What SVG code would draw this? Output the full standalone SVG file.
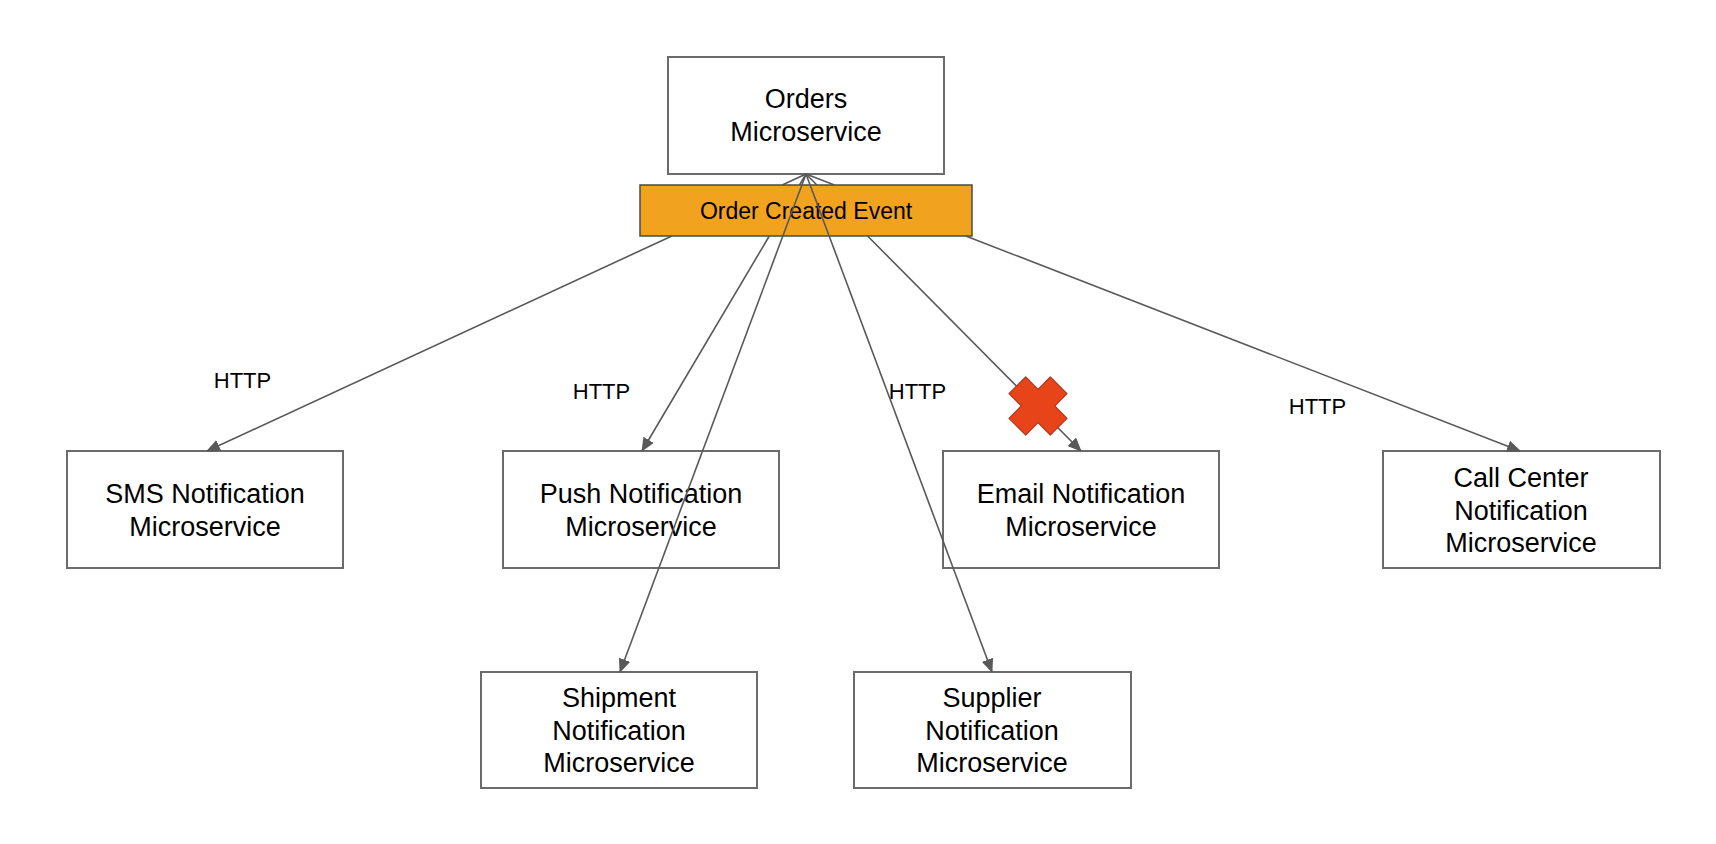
<svg xmlns="http://www.w3.org/2000/svg" width="1716" height="844" viewBox="0 0 1716 844">
  <style>
    .box { fill: #ffffff; stroke: #6b6b6b; stroke-width: 2; }
    .bar { fill: #F1A21F; stroke: #4a4a4a; stroke-width: 1.5; }
    .lbl { font-family: "Liberation Sans", Arial, sans-serif; font-size: 27px; fill: #000; text-anchor: middle; }
    .ev { font-family: "Liberation Sans", Arial, sans-serif; font-size: 23px; fill: #000; text-anchor: middle; }
    .http { font-family: "Liberation Sans", Arial, sans-serif; font-size: 22px; fill: #000; text-anchor: middle; }
    .conn { fill: none; stroke: #595959; stroke-width: 1.6; marker-end: url(#arrow); }
  </style>
  <defs>
    <marker id="arrow" markerUnits="userSpaceOnUse" markerWidth="14" markerHeight="12" viewBox="0 0 14 12" refX="13" refY="6" orient="auto">
      <path d="M0,0 L14,6 L0,12 Z" fill="#595959"/>
    </marker>
  </defs>
  <rect width="1716" height="844" fill="#ffffff"/>

  <g id="orders">
    <rect class="box" x="668" y="57" width="276" height="117"/>
    <text class="lbl" x="806" y="108">Orders</text>
    <text class="lbl" x="806" y="141">Microservice</text>
  </g>
  <g id="event">
    <rect class="bar" x="640" y="185" width="332" height="51"/>
    <text class="ev" x="806" y="219">Order Created Event</text>
  </g>
  <g id="sms">
    <rect class="box" x="67" y="451" width="276" height="117"/>
    <text class="lbl" x="205" y="503">SMS Notification</text>
    <text class="lbl" x="205" y="536">Microservice</text>
  </g>
  <g id="push">
    <rect class="box" x="503" y="451" width="276" height="117"/>
    <text class="lbl" x="641" y="503">Push Notification</text>
    <text class="lbl" x="641" y="536">Microservice</text>
  </g>
  <g id="email">
    <rect class="box" x="943" y="451" width="276" height="117"/>
    <text class="lbl" x="1081" y="503">Email Notification</text>
    <text class="lbl" x="1081" y="536">Microservice</text>
  </g>
  <g id="callcenter">
    <rect class="box" x="1383" y="451" width="277" height="117"/>
    <text class="lbl" x="1521" y="487">Call Center</text>
    <text class="lbl" x="1521" y="520">Notification</text>
    <text class="lbl" x="1521" y="552">Microservice</text>
  </g>
  <g id="shipment">
    <rect class="box" x="481" y="672" width="276" height="116"/>
    <text class="lbl" x="619" y="707">Shipment</text>
    <text class="lbl" x="619" y="740">Notification</text>
    <text class="lbl" x="619" y="772">Microservice</text>
  </g>
  <g id="supplier">
    <rect class="box" x="854" y="672" width="277" height="116"/>
    <text class="lbl" x="992" y="707">Supplier</text>
    <text class="lbl" x="992" y="740">Notification</text>
    <text class="lbl" x="992" y="772">Microservice</text>
  </g>

  <g id="connectors">
    <path class="conn" d="M806,174 L782.2,185 M671.9,236 L207,451"/>
    <path class="conn" d="M806,174 L799.5,185 M769.3,236 L642,451"/>
    <path class="conn" d="M806,174 L816.9,185 M867.6,236 L1081,451"/>
    <path class="conn" d="M806,174 L834.4,185 M965.8,236 L1520,451"/>
    <path class="conn" d="M806,174 L620,672"/>
    <path class="conn" d="M806,174 L992,672"/>
    <text class="http" x="242.5" y="388">HTTP</text>
    <text class="http" x="601.5" y="399">HTTP</text>
    <text class="http" x="917.5" y="399">HTTP</text>
    <text class="http" x="1317.5" y="414">HTTP</text>
  </g>

  <g id="failure-mark" transform="translate(1038,406)">
    <polygon points="0,-16.7 12.3,-29 29,-12.3 16.7,0 29,12.3 12.3,29 0,16.7 -12.3,29 -29,12.3 -16.7,0 -29,-12.3 -12.3,-29" fill="#E8441A" stroke="#B5361A" stroke-width="1.2" stroke-linejoin="round"/>
  </g>
</svg>
